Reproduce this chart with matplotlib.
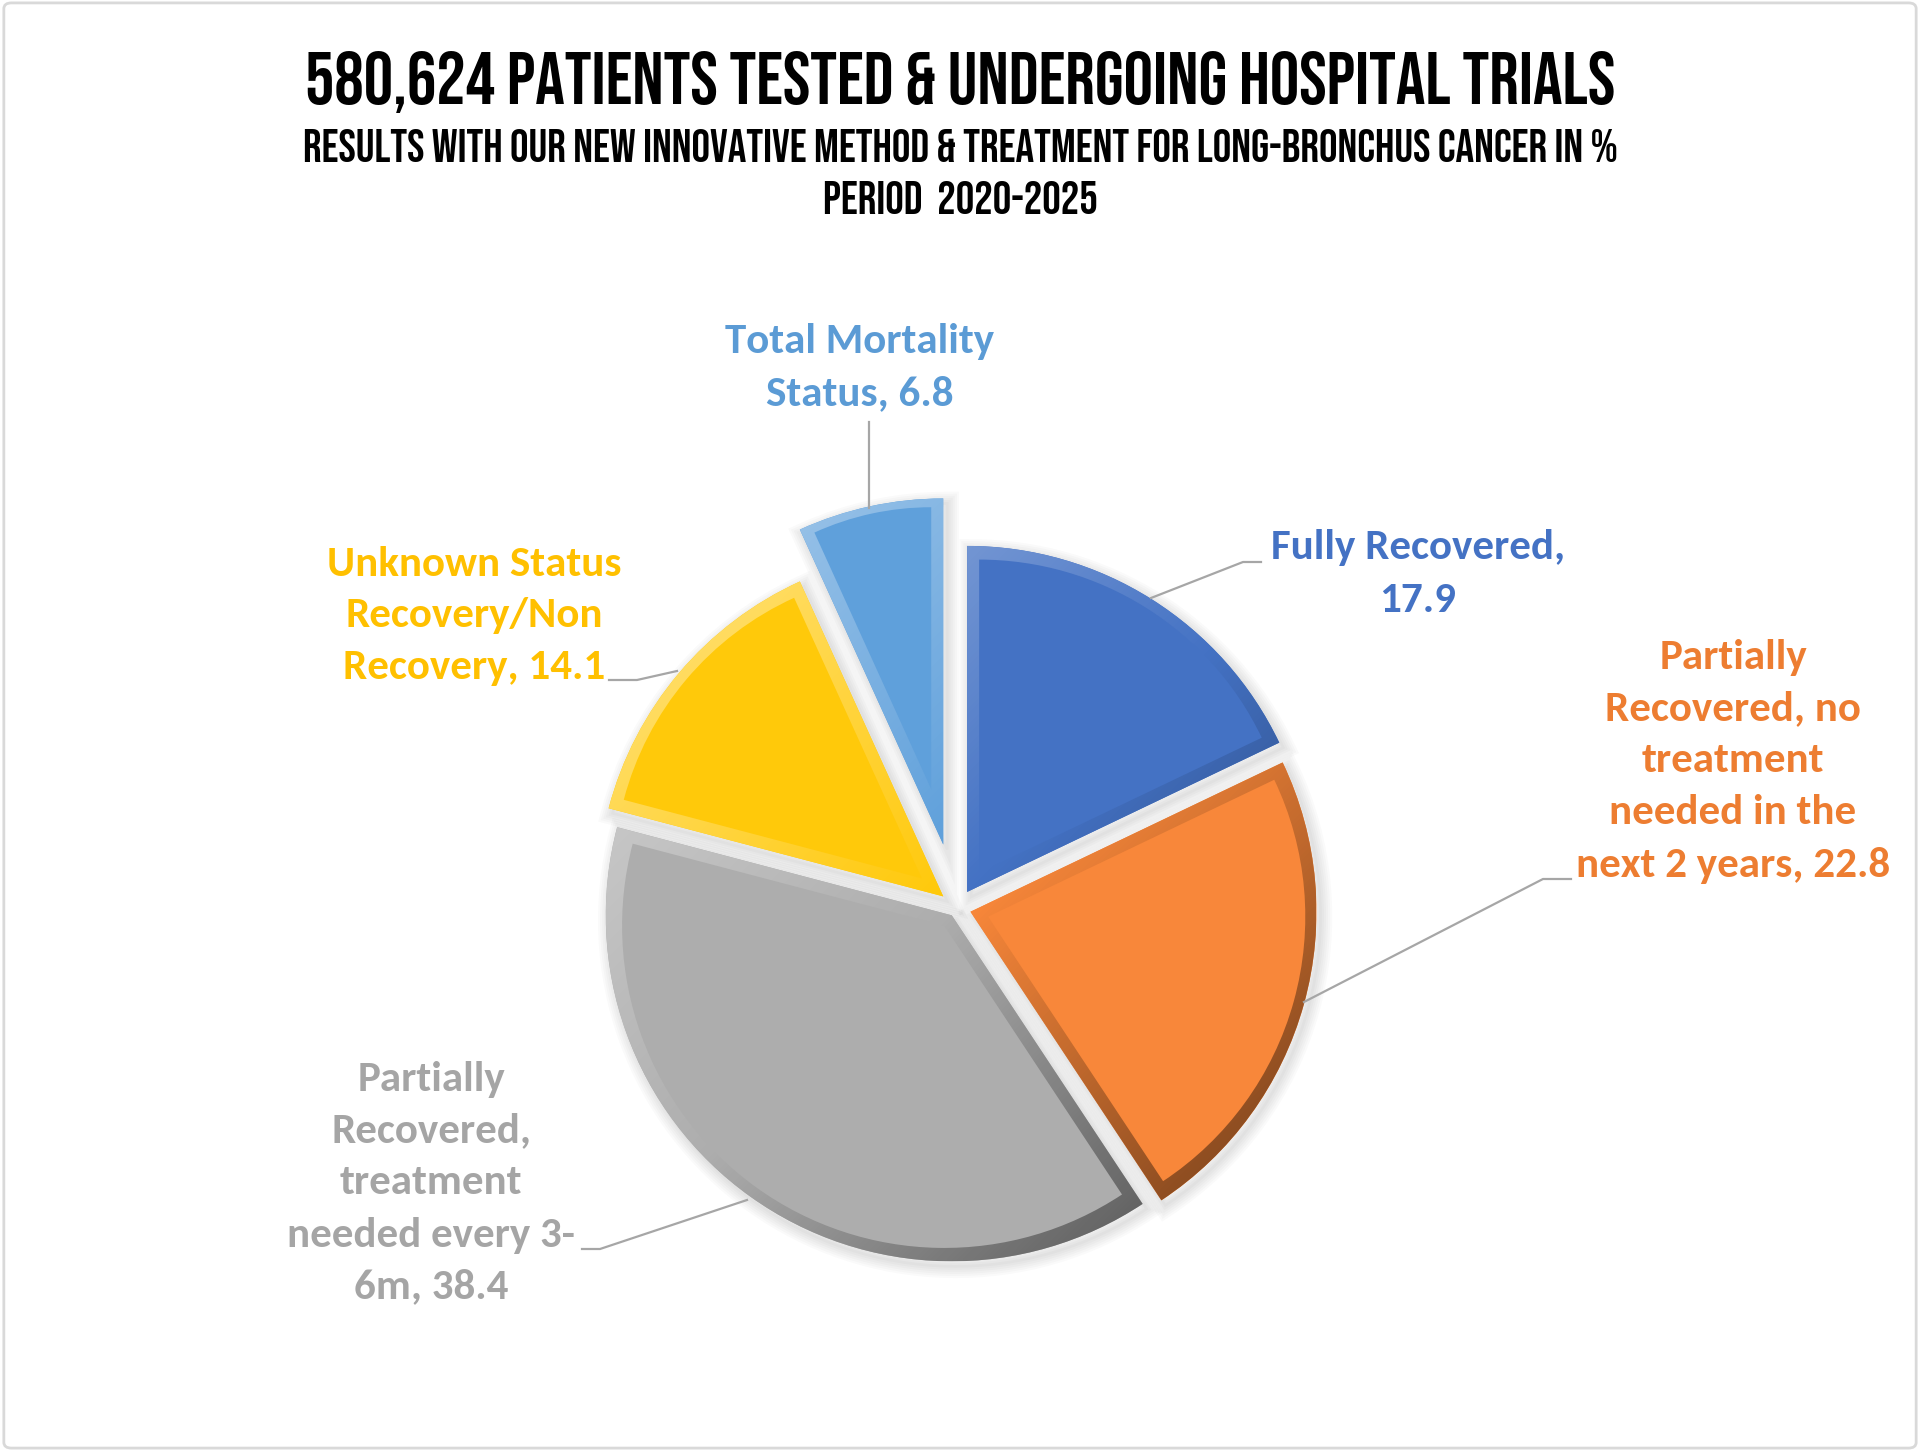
import numpy as np
import matplotlib
matplotlib.use("Agg")
import matplotlib.pyplot as plt
from matplotlib.patches import Wedge, FancyBboxPatch
from matplotlib.colors import LinearSegmentedColormap, to_rgb

# data
categories = ["Fully Recovered",
              "Partially\nRecovered, no\ntreatment\nneeded in the\nnext 2 years",
              "Partially\nRecovered,\ntreatment\nneeded every 3-\n6m",
              "Unknown Status\nRecovery/Non\nRecovery",
              "Total Mortality\nStatus"]
values = [17.9, 22.8, 38.4, 14.1, 6.8]
separators = [",\n", ", ", ", ", ", ", ", "]
colors = ["#4472C4", "#F8873A", "#ADADAD", "#FFC90A", "#5FA0DB"]
label_colors = ["#4472C4", "#ED7D31", "#A5A5A5", "#FFC000", "#5B9BD5"]

title = "580,624 PATIENTS TESTED & UNDERGOING HOSPITAL TRIALS"
subtitle = "RESULTS WITH OUR NEW INNOVATIVE METHOD & TREATMENT FOR LONG-BRONCHUS CANCER IN %"
period = "PERIOD  2020-2025"

# layout (pixels, measured from top-left)
W, H = 1920, 1451
center = (957, 908)
radius = 346
explode = [19, 14, 9, 18, 65]   # pixels
bevel = 20
label_pos = [(1418, 574), (1733, 761), (431, 1183), (474, 616), (860, 368)]
leaders = [
    [(1261, 562), (1243, 562), (1151, 598)],
    [(1571, 879), (1543, 879), (1304, 1002)],
    [(582, 1249), (600, 1249), (747, 1200)],
    [(609, 680), (637, 680), (677, 671)],
    [(869, 422), (869, 508)],
]

fig = plt.figure(figsize=(W / 100, H / 100), dpi=100)
fig.patch.set_facecolor("white")
ax = fig.add_axes([0, 0, 1, 1])

wedges, _ = ax.pie(values, colors=colors, startangle=270, counterclock=True,
                   explode=explode, radius=radius, center=center,
                   wedgeprops=dict(linewidth=0))
ax.set_aspect("equal")
ax.axis("off")


def mix(c, other, t):
    c = np.array(to_rgb(c))
    return tuple(c * (1 - t) + np.array(other) * t)


for w, col in zip(wedges, colors):
    cx, cy = w.center
    r, t1, t2 = w.r, w.theta1, w.theta2
    w.set_visible(False)
    # soft shadow
    for k in range(6):
        ax.add_patch(Wedge((cx + 4, cy + 5), r, t1, t2, facecolor="none",
                           edgecolor="black", linewidth=2 + 3 * k, alpha=0.018,
                           zorder=1))
    # bevel rim: gradient clipped to the wedge
    base = Wedge((cx, cy), r, t1, t2, facecolor=col, edgecolor="none", zorder=2)
    ax.add_patch(base)
    cmap = LinearSegmentedColormap.from_list(
        "b", [mix(col, (1, 1, 1), 0.5), col, mix(col, (0, 0, 0), 0.6)])
    xs = np.linspace(cx - r, cx + r, 200)
    ys = np.linspace(cy - r, cy + r, 200)
    gx, gy = np.meshgrid(xs, ys)
    grad = (gx - cx) + (gy - cy)
    im = ax.imshow(grad, extent=(cx - r, cx + r, cy + r, cy - r), cmap=cmap,
                   origin="upper", zorder=2, interpolation="bilinear")
    im.set_clip_path(base)
    # flat face inside the rim, with a soft transition
    mid = np.radians((t1 + t2) / 2)
    half = np.radians((t2 - t1) / 2)
    for j, a in zip([1.0, 0.6], [0.5, 1.0]):
        b = bevel * j
        d = b / np.sin(half) if half < np.pi / 2 else b
        fx, fy = cx + d * np.cos(mid), cy + d * np.sin(mid)
        ax.add_patch(Wedge((fx, fy), r - b - d * 0.92, t1, t2, facecolor=col,
                           edgecolor="none", alpha=a, zorder=3))

ax.set_xlim(0, W)
ax.set_ylim(H, 0)

lab_font = dict(family=["Carlito", "Lato", "DejaVu Sans"], weight="bold", fontsize=31)
for name, sep, v, col, pos, pts in zip(categories, separators, values,
                                        label_colors, label_pos, leaders):
    ax.text(pos[0], pos[1], f"{name}{sep}{v}", color=col, ha="center", va="center",
            multialignment="center", linespacing=1.5, zorder=5, **lab_font)
    px, py = zip(*pts)
    ax.plot(px, py, color="#A6A6A6", linewidth=1.6, zorder=4)

tfont = dict(family=["Bebas Neue", "Roboto Condensed", "DejaVu Sans"],
             color="black", ha="center", va="center")
ax.text(960, 82, title, fontsize=53, **tfont)
ax.text(960, 146, subtitle, fontsize=33.4, **tfont)
ax.text(960, 197, period, fontsize=33.4, **tfont)

fig.patches.append(FancyBboxPatch((0.002, 0.002), 0.996, 0.996,
                                  boxstyle="round,pad=0,rounding_size=0.004",
                                  transform=fig.transFigure, facecolor="none",
                                  edgecolor="#D9D9D9", linewidth=2))

fig.savefig("out.png", dpi=100, facecolor="white")
